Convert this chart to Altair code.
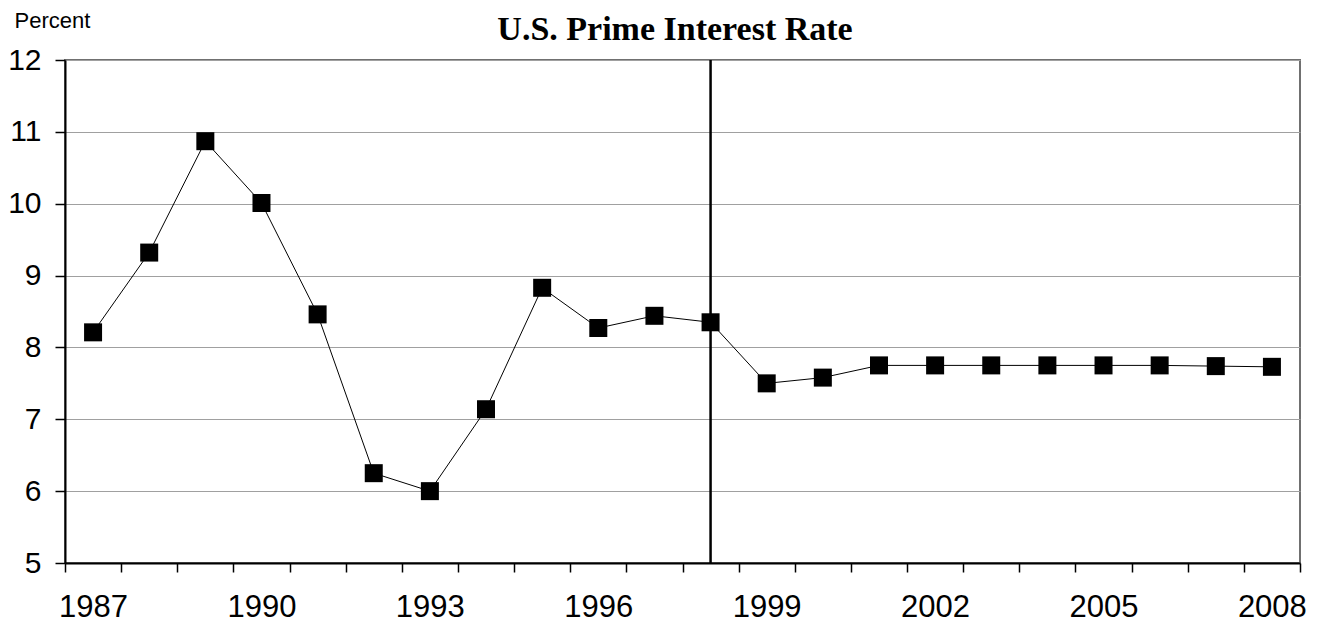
import altair as alt
import pandas as pd

years = list(range(1987, 2009))
rates = [8.21, 9.32, 10.87, 10.01, 8.46, 6.25, 6.00, 7.14, 8.83, 8.27, 8.44,
         8.35, 7.50, 7.58, 7.75, 7.75, 7.75, 7.75, 7.75, 7.75, 7.74, 7.73]
divider_year = [1998]
chart_title = ["U.S. Prime Interest Rate"]
y_label = "Percent"
y_ticks = [5, 6, 7, 8, 9, 10, 11, 12]
x_tick_edges = [y - 0.5 for y in years] + [years[-1] + 0.5]

df = pd.DataFrame({"year": years, "rate": rates})

x_scale = alt.Scale(domain=[years[0] - 0.5, years[-1] + 0.5], nice=False, zero=False)
y_scale = alt.Scale(domain=[5, 12], nice=False, zero=False)

x_axis = alt.Axis(
    values=x_tick_edges,
    labelExpr="(round(datum.value + 0.5) - 1987) % 3 == 0 && datum.value < 2008 ? '' + round(datum.value + 0.5) : ''",
    labelOffset=28,
    labelOverlap=False,
    labelFlush=False,
    labelBound=False,
    labelPadding=20,
    labelFont="Liberation Sans",
    labelFontSize=31,
    labelColor="black",
    tickSize=9,
    tickColor="black",
    tickWidth=1.5,
    domainColor="black",
    domainWidth=2,
    grid=False,
    title=None,
)

y_axis = alt.Axis(
    values=y_ticks,
    labelFont="Liberation Sans",
    labelFontSize=30,
    labelColor="black",
    labelPadding=14,
    tickSize=10,
    tickColor="black",
    tickWidth=1.5,
    domainColor="black",
    domainWidth=2,
    grid=True,
    gridColor="#a0a0a0",
    gridWidth=1,
    title=y_label,
    titleAngle=0,
    titleX=-51,
    titleY=-33,
    titleAlign="left",
    titleBaseline="alphabetic",
    titleFont="Liberation Sans",
    titleFontSize=22,
    titleFontWeight="normal",
    titleColor="black",
)

X = alt.X("year:Q", scale=x_scale, axis=x_axis)
Y = alt.Y("rate:Q", scale=y_scale, axis=y_axis)

base = alt.Chart(df)
line = base.mark_line(color="black", strokeWidth=1).encode(x=X, y=Y)
points = base.mark_point(shape="square", filled=True, size=324, color="black", opacity=1).encode(x=X, y=Y)

rule = alt.Chart(pd.DataFrame({"year": divider_year})).mark_rule(
    color="black", strokeWidth=2.5
).encode(x=X)

title = alt.Chart(pd.DataFrame({"t": chart_title})).mark_text(
    font="Liberation Serif", fontSize=34, fontWeight="bold",
    align="center", baseline="alphabetic", color="black"
).encode(text="t:N", x=alt.value(610), y=alt.value(-20))

chart = alt.layer(line, rule, points, title).properties(
    width=1235,
    height=503,
    padding={"left": 57, "top": 52, "right": 10, "bottom": 60},
    autosize="none",
).configure_view(stroke="#707070", strokeWidth=2)

chart.save("out.html", embed_options={"renderer": "svg", "actions": False})
